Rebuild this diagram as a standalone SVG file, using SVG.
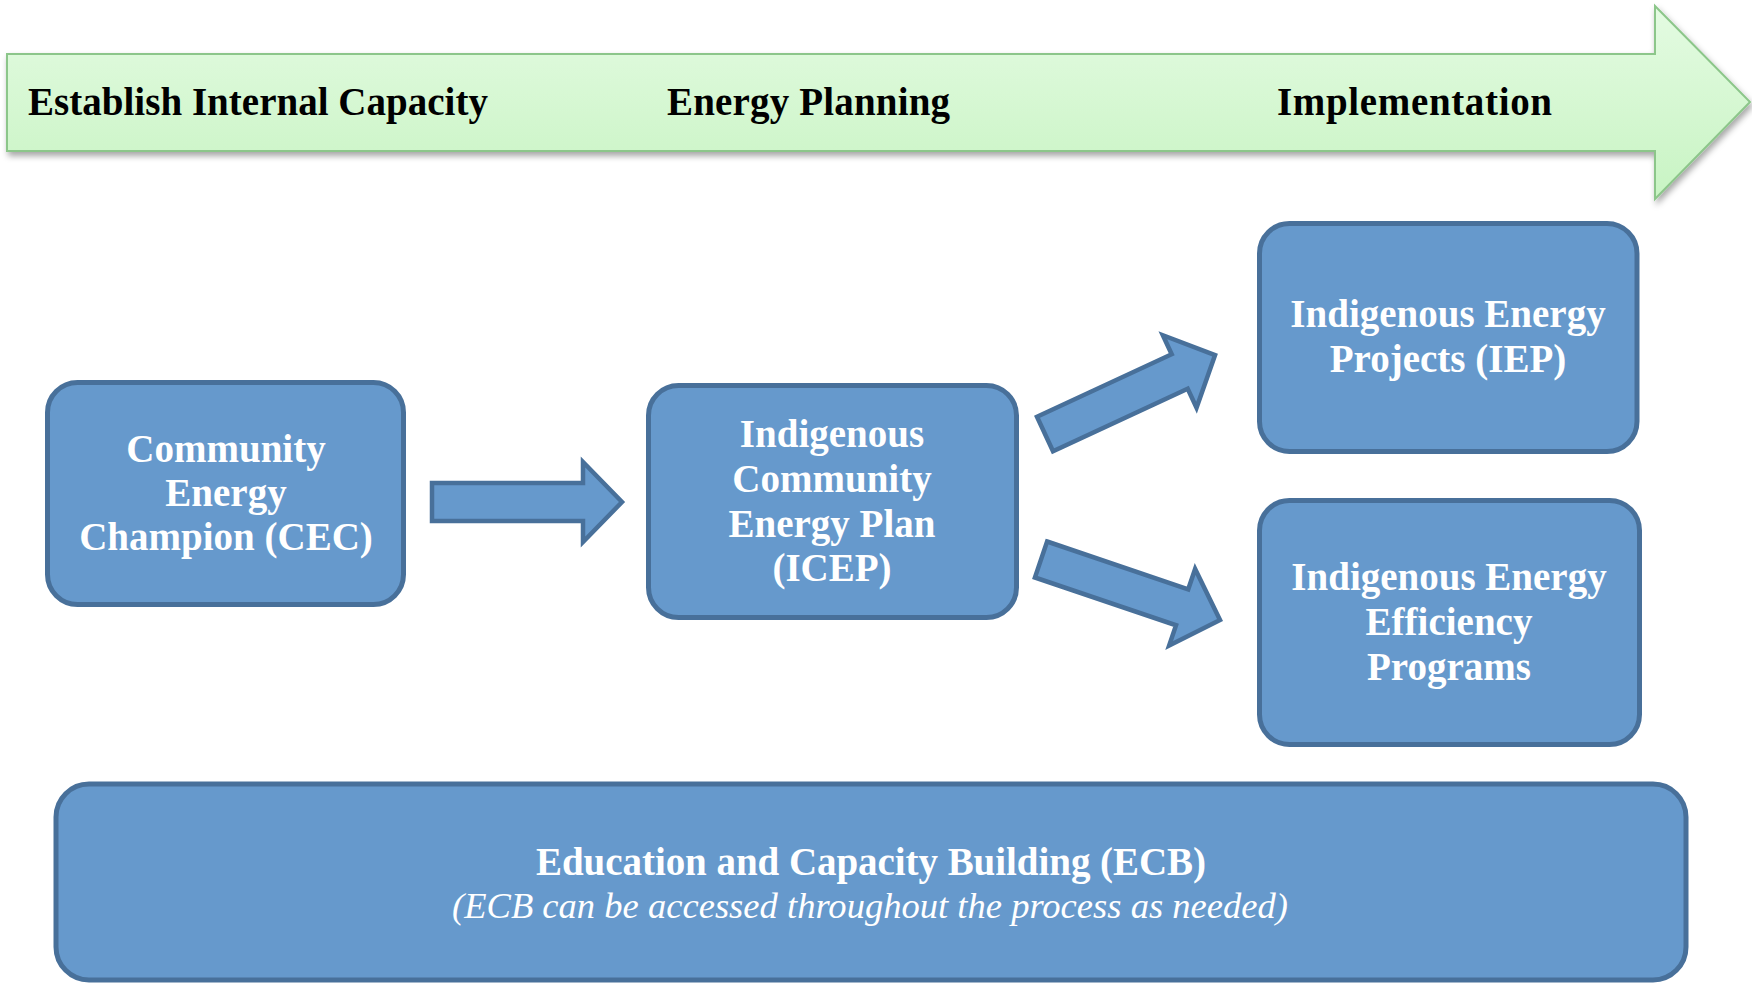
<svg xmlns="http://www.w3.org/2000/svg" width="1752" height="983" viewBox="0 0 1752 983">
  <style>
    .box { fill: #6699CC; stroke: #48709A; stroke-width: 5; }
    .conn { fill: #6699CC; stroke: #48709A; stroke-width: 4.5; stroke-linejoin: miter; }
    .lbl { font-family: "Liberation Serif", "Times New Roman", serif; font-weight: bold; font-size: 39px; fill: #FFFFFF; text-anchor: middle; }
    .hdr { font-family: "Liberation Serif", "Times New Roman", serif; font-weight: bold; font-size: 39px; fill: #000000; }
    .ital { font-family: "Liberation Serif", "Times New Roman", serif; font-style: italic; font-size: 36.5px; fill: #FFFFFF; text-anchor: middle; }
  </style>
  <defs>
    <linearGradient id="greenGrad" x1="0" y1="0" x2="0" y2="1">
      <stop offset="0" stop-color="#E4FBE2"/>
      <stop offset="1" stop-color="#C8F4C3"/>
    </linearGradient>
    <filter id="shadow" x="-5%" y="-20%" width="110%" height="150%">
      <feDropShadow dx="2" dy="4" stdDeviation="3" flood-color="#000000" flood-opacity="0.35"/>
    </filter>
  </defs>
  <rect x="0" y="0" width="1752" height="983" fill="#FFFFFF"/>

  <g id="timeline">
    <polygon points="7,54 1655,54 1655,6 1750,102 1655,199 1655,151 7,151" fill="url(#greenGrad)" stroke="#8CC68A" stroke-width="2" filter="url(#shadow)"/>
    <text class="hdr" x="28" y="115" textLength="460">Establish Internal Capacity</text>
    <text class="hdr" x="667" y="115" textLength="283">Energy Planning</text>
    <text class="hdr" x="1277" y="115" textLength="275">Implementation</text>
  </g>

  <g id="connectors">
    <polygon class="conn" points="432,483 583,483 583,462 622,502 583,542 583,521 432,521"/>
    <polygon class="conn" transform="translate(1045,434) rotate(-24.9)" points="0,-19 148.5,-19 148.5,-40 187.5,0 148.5,40 148.5,19 0,19"/>
    <polygon class="conn" transform="translate(1041,559.5) rotate(18.7)" points="0,-19 149,-19 149,-40.5 189,0 149,40.5 149,19 0,19"/>
  </g>

  <g id="cec">
    <rect class="box" x="47.5" y="382.5" width="356" height="222" rx="30" ry="30"/>
    <text class="lbl" x="226" y="462">Community</text>
    <text class="lbl" x="226" y="506">Energy</text>
    <text class="lbl" x="226" y="550">Champion (CEC)</text>
  </g>

  <g id="icep">
    <rect class="box" x="648.5" y="385.5" width="368" height="232" rx="30" ry="30"/>
    <text class="lbl" x="832" y="447">Indigenous</text>
    <text class="lbl" x="832" y="492">Community</text>
    <text class="lbl" x="832" y="537">Energy Plan</text>
    <text class="lbl" x="832" y="581">(ICEP)</text>
  </g>

  <g id="iep">
    <rect class="box" x="1259.5" y="223.5" width="377.5" height="228" rx="30" ry="30"/>
    <text class="lbl" x="1448" y="327">Indigenous Energy</text>
    <text class="lbl" x="1448" y="372">Projects (IEP)</text>
  </g>

  <g id="ieep">
    <rect class="box" x="1259.5" y="500.5" width="380" height="244" rx="30" ry="30"/>
    <text class="lbl" x="1449" y="590">Indigenous Energy</text>
    <text class="lbl" x="1449" y="635">Efficiency</text>
    <text class="lbl" x="1449" y="680">Programs</text>
  </g>

  <g id="ecb">
    <rect class="box" x="56" y="784" width="1630" height="196" rx="33" ry="33"/>
    <text class="lbl" x="871" y="875" textLength="670">Education and Capacity Building (ECB)</text>
    <text class="ital" x="870" y="918" textLength="836">(ECB can be accessed throughout the process as needed)</text>
  </g>
</svg>
